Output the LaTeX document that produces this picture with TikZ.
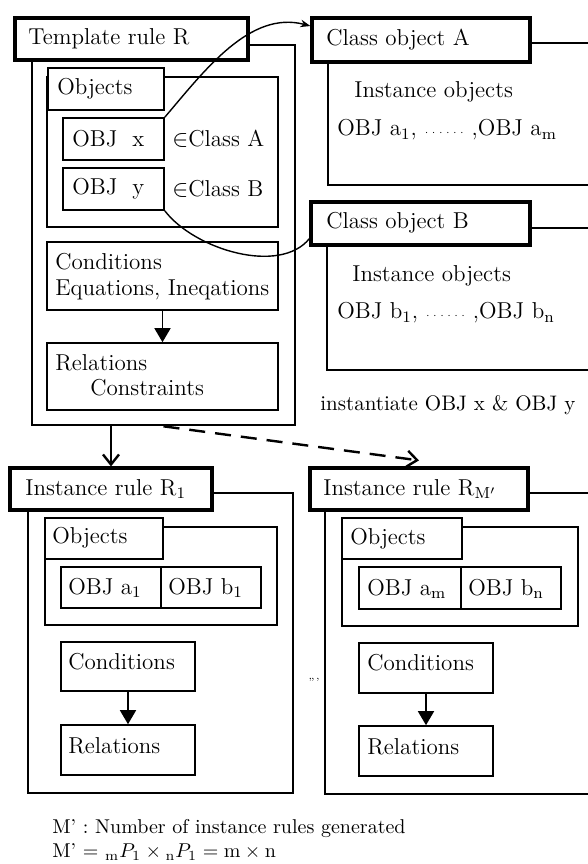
\documentclass[tikz,border=0pt]{standalone}
\usetikzlibrary{fit,arrows.meta}

\tikzset{
	hdr/.style={draw, line width=1.6pt, fill=white, inner sep=0pt},
	frame/.style={draw, line width=1.3pt, inner sep=0pt},
	inbox/.style={draw, line width=0.8pt, fill=white, inner sep=0pt},
	txt/.style={anchor=west, inner sep=0pt, font=\fontsize{11.5}{13}\selectfont},
	note/.style={anchor=west, inner sep=0pt, font=\fontsize{10.5}{12}\selectfont},
}

\begin{document}
\begin{tikzpicture}[x=0.5pt,y=-0.5pt]
		\useasboundingbox (0,0) rectangle (588,864);

		% template rule R
		\node[frame, fit={(32,45)(295,425)}] (tmpl) {};
		\node[inbox, fit={(47,77)(278,227)}] (tobj) {};
		\node[inbox, fit={(48,68)(164,110)}] (tobjtab) {};
		\node[inbox, fit={(63,118)(164,160)}] (objx) {};
		\node[inbox, fit={(63,168)(164,210)}] (objy) {};
		\node[inbox, fit={(47,242)(278,310)}] (tcond) {};
		\node[inbox, fit={(47,343)(278,410)}] (trel) {};
		\node[hdr, fit={(15,18)(248,60)}] (tmplhead) {};

		% class objects
		\draw[line width=1.3pt] (588,43) -| (328,185) -- (588,185);
		\node[hdr, fit={(312,18)(530,62)}] (clsAhead) {};
		\draw[line width=1.3pt] (588,228) -| (327,370) -- (588,370);
		\node[hdr, fit={(311,202)(530,245)}] (clsBhead) {};

		% instance rule R1
		\node[frame, fit={(28,493)(293,793)}] (inst1) {};
		\node[inbox, fit={(45,527)(277,625)}] (iobj1) {};
		\node[inbox, fit={(45,518)(163,559)}] (iobjtab1) {};
		\node[inbox, fit={(61,567)(161,608)}] (obja1) {};
		\node[inbox, fit={(161,567)(261,608)}] (objb1) {};
		\node[inbox, fit={(61,642)(195,691)}] (icond1) {};
		\node[inbox, fit={(61,725)(195,775)}] (irel1) {};
		\node[hdr, fit={(10,468)(212,510)}] (inst1head) {};

		% instance rule RM'
		\draw[line width=1.3pt] (588,493) -| (325,794) -- (588,794);
		\node[inbox, fit={(342,527)(578,626)}] (iobjM) {};
		\node[inbox, fit={(342,518)(462,559)}] (iobjtabM) {};
		\node[inbox, fit={(359,567)(461,609)}] (objam) {};
		\node[inbox, fit={(461,567)(561,609)}] (objbn) {};
		\node[inbox, fit={(359,643)(493,693)}] (icondM) {};
		\node[inbox, fit={(359,726)(493,776)}] (irelM) {};
		\node[hdr, fit={(310,468)(528,510)}] (instMhead) {};

		% labels
		\foreach \px/\py/\txt [count=\i] in {28/39/{Template rule R}, 57/89/Objects, 72/139/{OBJ\ \ x}, 72/189/{OBJ\ \ y},
			172/139/{$\in$Class A}, 172/189/{$\in$Class B}, 55/262/Conditions, 55/290/{Equations, Ineqations},
			55/363/Relations, 90/388/Constraints,
			326/40/{Class object A}, 354/92/{Instance objects}, 337/130/{OBJ a$_{\mathrm{1}}$, {\tiny$\cdots\cdots$} ,OBJ a$_{\mathrm{m}}$},
			326/223/{Class object B}, 352/276/{Instance objects}, 337/313/{OBJ b$_{\mathrm{1}}$, {\tiny$\cdots\cdots$} ,OBJ b$_{\mathrm{n}}$},
			25/489/{Instance rule R$_{\mathrm{1}}$}, 52/538/Objects, 68/588/{OBJ a$_{\mathrm{1}}$}, 168/588/{OBJ b$_{\mathrm{1}}$},
			68/662/Conditions, 68/746/Relations,
			323/489/{Instance rule R$_{\mathrm{M'}}$}, 350/539/Objects, 367/589/{OBJ a$_{\mathrm{m}}$}, 468/589/{OBJ b$_{\mathrm{n}}$},
			367/663/Conditions, 367/747/Relations}
		{
			\node[txt] (lbl\i) at (\px,\py) {\txt};
		}

		\node[note] (inst) at (320,405) {instantiate OBJ x \& OBJ y};
		\node[note, font=\tiny] (gap) at (308,680) {,,,};
		\node[note, font=\fontsize{10}{11}\selectfont] (def1) at (52,828) {M' : Number of instance rules generated};
		\node[note, font=\fontsize{10}{11}\selectfont] (def2) at (52,852) {M' = ${}_{\mathrm{m}}P_1\times{}_{\mathrm{n}}P_1 = \mathrm{m}\times\mathrm{n}$};

		% connectors
		\draw[-{Triangle[width=8pt,length=7pt]}, line width=0.8pt] (tcond) -- (trel);
		\draw[-{Triangle[width=8pt,length=7pt]}, line width=0.8pt] (icond1) -- (irel1);
		\draw[-{Triangle[width=8pt,length=7pt]}, line width=0.8pt] (icondM) -- (irelM);
		\draw[-{Stealth[length=5pt]}, line width=0.7pt] (objx.north east) .. controls (205,70) and (250,10) .. ([yshift=7pt]clsAhead.west);
		\draw[line width=0.7pt] (objy.south east) .. controls (195,250) and (280,275) .. ([yshift=4pt]clsBhead.south west);
		\draw[-{Straight Barb[length=5pt,width=8pt]}, line width=1.2pt] (inst1head.north |- tmpl.south) -- (inst1head.north);
		\draw[-{Straight Barb[length=5pt,width=8pt]}, line width=1.2pt, dash pattern=on 8pt off 5pt] (tmpl.south) -- ([yshift=3pt]instMhead.north);

	\end{tikzpicture}
\end{document}
